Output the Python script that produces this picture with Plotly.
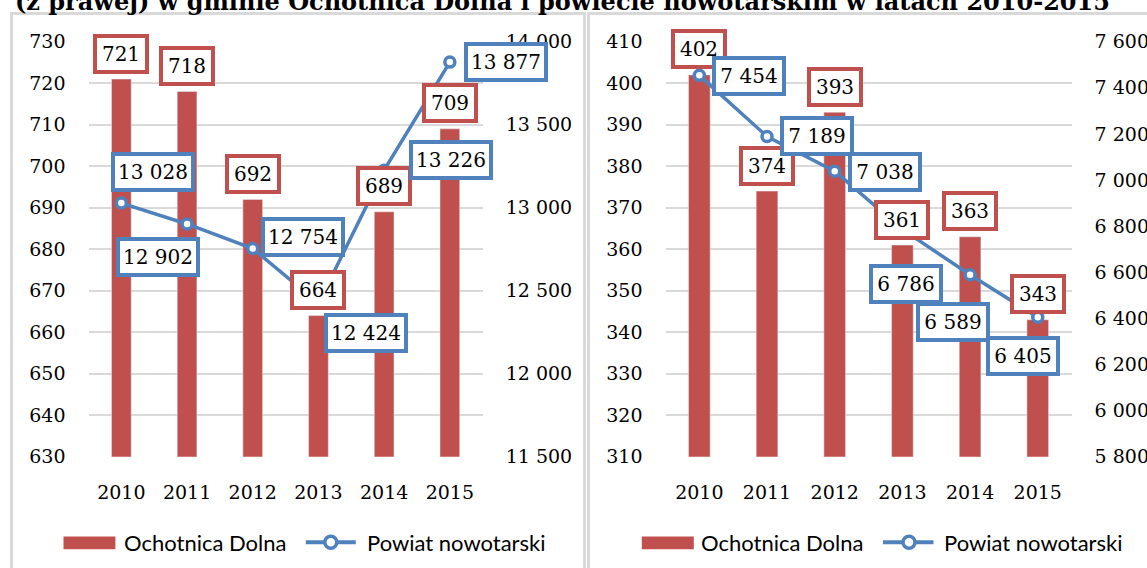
import plotly.graph_objects as go

# ---------------- data ----------------
years = ["2010", "2011", "2012", "2013", "2014", "2015"]

# left panel
left_gmina = [721, 718, 692, 664, 689, 709]               # Ochotnica Dolna (bars, left axis)
left_powiat = [13028, 12902, 12754, 12424, 13226, 13877]  # Powiat nowotarski (line, right axis)

# right panel
right_gmina = [402, 374, 393, 361, 363, 343]
right_powiat = [7454, 7189, 7038, 6786, 6589, 6405]

series_names = ["Ochotnica Dolna", "Powiat nowotarski"]
title_text = "(z prawej) w gminie Ochotnica Dolna i powiecie nowotarskim w latach 2010-2015"

# ---------------- styles / positions ----------------
W, H = 1147, 568
RED = "#C0504D"
BLUE = "#4F81BD"
GRID = "#D9D9D9"
NUMFONT = "DejaVu Serif"
LEGFONT = "Lato"

def px_x(p):
    return p / W

def px_y(p):
    return (H - p) / H

# pixel shifts of line labels (xshift, yshift) relative to the points
left_line_shift = [(32, 31), (-29, -33), (50, 12), (48, -30), (67, 10), (56, 0)]
right_line_shift = [(50, -1), (50, 0), (50, -1), (4, -55), (-17, -47), (-15, -39)]
BAR_LABEL_SHIFT = 25.5

def fmt(v):
    return f"{v:,}".replace(",", " ")

fig = go.Figure()

fig.add_trace(go.Bar(x=years, y=left_gmina, name=series_names[0], marker_color=RED,
                     width=0.30, xaxis="x", yaxis="y", showlegend=False))
fig.add_trace(go.Scatter(x=years, y=left_powiat, name=series_names[1], mode="lines+markers",
                         line=dict(color=BLUE, width=3.5),
                         marker=dict(symbol="circle", size=10, color="white",
                                     line=dict(color=BLUE, width=3.5)),
                         xaxis="x", yaxis="y2", showlegend=False))
fig.add_trace(go.Bar(x=years, y=right_gmina, name=series_names[0], marker_color=RED,
                     width=0.32, xaxis="x2", yaxis="y3", showlegend=False))
fig.add_trace(go.Scatter(x=years, y=right_powiat, name=series_names[1], mode="lines+markers",
                         line=dict(color=BLUE, width=3.5),
                         marker=dict(symbol="circle", size=10, color="white",
                                     line=dict(color=BLUE, width=3.5)),
                         xaxis="x2", yaxis="y4", showlegend=False))

tickfont = dict(family=NUMFONT, size=19, color="#000000")
ydom = [px_y(456.7), px_y(41.7)]

common_x = dict(type="category", showgrid=False, ticks="", showline=False, zeroline=False,
                tickfont=tickfont, ticklabelstandoff=22, automargin=False)
common_y = dict(showline=False, zeroline=False, ticks="", tickfont=tickfont,
                ticklabelstandoff=22, domain=ydom, automargin=False)

fig.update_layout(
    width=W, height=H, autosize=False,
    margin=dict(l=0, r=0, t=0, b=0, pad=0, autoexpand=False),
    paper_bgcolor="white", plot_bgcolor="white",
    separators=". ",
    showlegend=False,
    xaxis=dict(domain=[px_x(88.5), px_x(482.7)], anchor="y", range=[-0.5, 5.5], **common_x),
    yaxis=dict(anchor="x", range=[630, 730], dtick=10, tick0=630, showgrid=True,
               gridcolor=GRID, gridwidth=1.5, **common_y),
    yaxis2=dict(anchor="x", overlaying="y", side="right", range=[11500, 14000], dtick=500,
                tick0=11500, showgrid=False, tickformat=",d", **common_y),
    xaxis2=dict(domain=[px_x(665.5), px_x(1071.6)], anchor="y3", range=[-0.5, 5.5], **common_x),
    yaxis3=dict(anchor="x2", range=[310, 410], dtick=10, tick0=310, showgrid=True,
                gridcolor=GRID, gridwidth=1.5, **common_y),
    yaxis4=dict(anchor="x2", overlaying="y3", side="right", range=[5800, 7600], dtick=200,
                tick0=5800, showgrid=False, tickformat=",d", **common_y),
)

annotations = []
BW, PAD = 4, 1.5
lab_font = dict(family=NUMFONT, size=20, color="#000000")

def box(xref, yref, x, y, text, color, w, xs, ys):
    return dict(xref=xref, yref=yref, x=x, y=y, text=text, showarrow=False,
                xanchor="center", yanchor="middle", xshift=xs, yshift=ys,
                font=lab_font, bgcolor="white", bordercolor=color, borderwidth=BW,
                borderpad=PAD, width=w, height=40 - 2 * (BW + PAD), align="center")

# annotation x given as the category index (numeric-looking category names)
for i in range(len(years)):
    annotations.append(box("x", "y", i, left_gmina[i], fmt(left_gmina[i]), RED,
                           56 - 2 * (BW + PAD), 0, BAR_LABEL_SHIFT))
for i in range(len(years)):
    xs, ys = left_line_shift[i]
    annotations.append(box("x", "y2", i, left_powiat[i], fmt(left_powiat[i]), BLUE,
                           84 - 2 * (BW + PAD), xs, ys))
for i in range(len(years)):
    annotations.append(box("x2", "y3", i, right_gmina[i], fmt(right_gmina[i]), RED,
                           56 - 2 * (BW + PAD), 0, BAR_LABEL_SHIFT))
for i in range(len(years)):
    xs, ys = right_line_shift[i]
    annotations.append(box("x2", "y4", i, right_powiat[i], fmt(right_powiat[i]), BLUE,
                           74 - 2 * (BW + PAD), xs, ys))

# title (clipped at the top of the picture)
annotations.append(dict(xref="paper", yref="paper", x=px_x(12.7), y=px_y(2), text="<b>" + title_text + "</b>",
                        showarrow=False, xanchor="left", yanchor="middle",
                        font=dict(family=NUMFONT, size=24, color="#000000")))

shapes = []
# panel frames
shapes.append(dict(type="rect", xref="paper", yref="paper", x0=px_x(11.5), x1=px_x(584.5),
                   y0=px_y(600), y1=px_y(13.5), line=dict(color=GRID, width=3), layer="below"))
shapes.append(dict(type="rect", xref="paper", yref="paper", x0=px_x(588.5), x1=px_x(1180),
                   y0=px_y(600), y1=px_y(13.5), line=dict(color=GRID, width=3), layer="below"))

# custom legends
leg_font = dict(family=LEGFONT, size=22, color="#000000")
for (r0, r1, t1, l0, l1, m, t2) in [(63.5, 115.4, 122, 305.8, 355.8, 330.8, 364.6),
                                     (641.8, 693.8, 699, 883, 933.5, 909, 941.8)]:
    shapes.append(dict(type="rect", xref="paper", yref="paper", x0=px_x(r0), x1=px_x(r1),
                       y0=px_y(549.3), y1=px_y(536.5), fillcolor=RED, line=dict(width=0)))
    shapes.append(dict(type="line", xref="paper", yref="paper", x0=px_x(l0), x1=px_x(l1),
                       y0=px_y(542.3), y1=px_y(542.3), line=dict(color=BLUE, width=4)))
    shapes.append(dict(type="circle", xref="paper", yref="paper", x0=px_x(m - 6), x1=px_x(m + 6),
                       y0=px_y(548.3), y1=px_y(536.3), fillcolor="white",
                       line=dict(color=BLUE, width=3.5)))
    annotations.append(dict(xref="paper", yref="paper", x=px_x(t1), y=px_y(542), text=series_names[0],
                            showarrow=False, xanchor="left", yanchor="middle", font=leg_font))
    annotations.append(dict(xref="paper", yref="paper", x=px_x(t2), y=px_y(542), text=series_names[1],
                            showarrow=False, xanchor="left", yanchor="middle", font=leg_font))

fig.update_layout(annotations=annotations, shapes=shapes)
fig.write_html("out.html", config={"displayModeBar": False},
               post_script="document.body.style.margin='0px';document.body.style.overflow='hidden';")
